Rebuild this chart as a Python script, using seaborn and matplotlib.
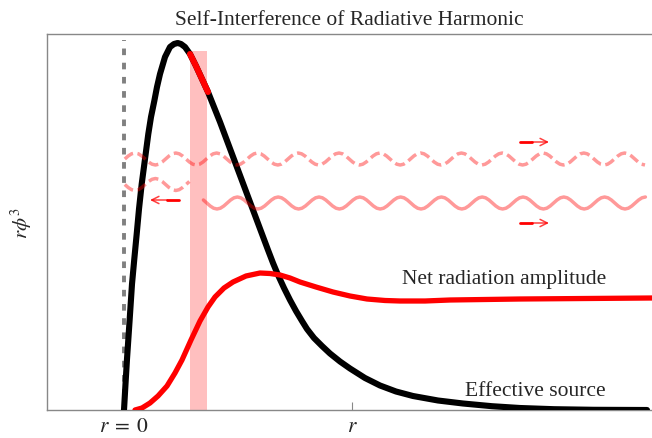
import numpy as np
import pandas as pd
import matplotlib
matplotlib.use('Agg')
import matplotlib.pyplot as plt
import seaborn as sns

sns.set_style('white')
plt.rcParams['font.family'] = ['Liberation Serif', 'DejaVu Serif']
plt.rcParams['mathtext.fontset'] = 'stix'

# effective source (black), arbitrary units, r = 0 at x = 0
source_x = [0, 1.5, 3, 5.5, 8, 10.3, 12.7, 15, 17.7, 21, 24.3, 27, 30.3, 33, 36, 41, 46, 50,
            53.7, 57, 61, 66, 72, 78, 84, 90, 96, 102, 108, 114, 120, 126, 132, 138, 144,
            149, 154, 160, 166, 172, 178, 183, 190, 198, 206, 216, 226, 241, 256, 272, 289,
            314, 339, 368, 396, 430, 470, 523]
source_y = [0, 26, 51, 88, 126, 151, 176, 201, 226, 251, 276, 293, 309, 323, 336, 353, 363, 366,
            367, 366, 363, 356, 344, 331, 318, 303, 288, 272, 256, 240, 224, 208, 192, 176, 160,
            147, 135, 122, 110, 99, 89, 81, 72, 64, 56.5, 48.5, 41.5, 32, 24.5, 18.5, 14,
            9.5, 6.5, 3.8, 2, 0.8, 0.2, 0]

# net radiation amplitude (red)
net_x = [11, 18, 26, 34, 43, 51, 58, 67, 76, 84, 91, 100, 109, 122, 136, 146, 156, 166, 176,
         192, 209, 226, 243, 261, 276, 301, 326, 396, 528]
net_y = [0, 2, 7, 14, 24, 37, 50, 70, 89, 103, 113, 122, 128, 134, 137, 136.5, 135, 132, 128,
         123, 118, 114, 111, 109.5, 109, 109, 110, 111, 112]

# highlighted window on the source
window = (66, 83)

# one period of the radiated waves, sampled from a crest
wave_period = 40.8
wave_profile = [6, 5.2, 3, 0, -3, -5.2, -6, -5.2, -3, 0, 3, 5.2]

tick_pos = [0, 228]
tick_labels = [r'$r\;=\;0$', r'$r$']


def wave(crest, start, stop, center, sign):
    step = wave_period / len(wave_profile)
    k = np.arange(int(np.ceil((start - crest) / step)), int(np.floor((stop - crest) / step)) + 1)
    x = crest + k * step
    y = [center + sign * wave_profile[i % len(wave_profile)] for i in k]
    return pd.DataFrame({'x': x, 'y': y})


out_dashed = wave(11, 0, 521, 251, 1)
back_dashed = wave(11, 0, 68, 225.5, -1)
out_solid = wave(399, 78, 522, 207, 1)

fig = plt.figure(figsize=(6.52, 4.39), dpi=100)
ax = fig.add_axes([47 / 652, 28 / 439, 605 / 652, 376 / 439])

ax.axvspan(window[0], window[1], ymax=359 / 376, color='red', alpha=0.25, lw=0, zorder=1)
ax.axvline(0, ymax=0.985, color='#808080', lw=2.8, zorder=2).set_dashes([1.7, 1.95])

src = pd.DataFrame({'x': source_x, 'y': source_y})
sns.lineplot(x='x', y='y', data=src, color='black', lw=4.4, sort=False, ax=ax, zorder=3)
hi = src[(src['x'] >= window[0] - 2) & (src['x'] <= window[1] + 1)]
sns.lineplot(x='x', y='y', data=hi, color='red', lw=4.4, sort=False, ax=ax, zorder=4)

net = pd.DataFrame({'x': net_x, 'y': net_y})
sns.lineplot(x='x', y='y', data=net, color='red', lw=3.8, sort=False, ax=ax, zorder=5)
ax.lines[-1].set_solid_capstyle('round')

for d, ls in [(out_dashed, '--'), (back_dashed, '--'), (out_solid, '-')]:
    sns.lineplot(x='x', y='y', data=d, color='red', alpha=0.4, lw=2.5, sort=False, ax=ax, zorder=6)
    if ls == '--':
        ax.lines[-1].set_dashes([2.9, 1.3])

# direction arrows
for x0, x1, y in [(55, 26, 210), (396, 425, 268), (396, 425, 187)]:
    mid = x0 + (x1 - x0) * 0.4
    ax.plot([x0, mid], [y, y], color='red', lw=2, zorder=7)
    ax.annotate('', xy=(x1, y), xytext=(mid, y),
                arrowprops=dict(arrowstyle='->', color='red', alpha=0.75, lw=1.1,
                                mutation_scale=13, shrinkA=0, shrinkB=0), zorder=7)

ax.text(278, 131, 'Net radiation amplitude', fontsize=15.5, va='center', ha='left')
ax.text(341, 19, 'Effective source', fontsize=15.5, va='center', ha='left')

ax.set_xlim(-77, 528)
ax.set_ylim(0, 376)
ax.set_xticks(tick_pos, tick_labels, fontsize=15.5)
ax.set_yticks([])
ax.tick_params(axis='x', direction='in', length=6, color='#888888', pad=5, bottom=True)
for s in ['left', 'bottom', 'top']:
    ax.spines[s].set_color('#888888')
    ax.spines[s].set_linewidth(1)
ax.spines['right'].set_visible(False)
ax.set(xlabel='')
ax.set_ylabel(r'$r\phi^3$', fontsize=15, labelpad=9)
ax.set_title('Self-Interference of Radiative Harmonic', fontsize=15.5, pad=7)

plt.savefig('out.png', dpi=100)
